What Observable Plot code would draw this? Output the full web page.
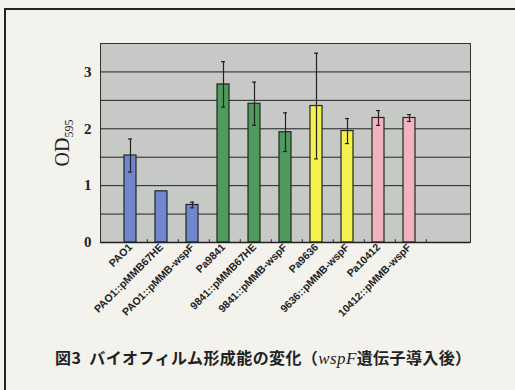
<!DOCTYPE html>
<html><head><meta charset="utf-8">
<script src="https://cdn.jsdelivr.net/npm/d3@7"></script>
<script src="https://cdn.jsdelivr.net/npm/@observablehq/plot@0.6"></script>
<style>
body{margin:0;background:#f3f2ec;width:515px;height:390px;overflow:hidden;position:relative;}
#frame{position:absolute;left:4px;top:8px;width:530px;height:400px;border:2px solid #222;}
#chart{position:absolute;left:0;top:0;}
#cap{position:absolute;left:55px;top:345px;font-family:"Noto Sans CJK JP",sans-serif;font-weight:bold;font-size:16px;color:#222;letter-spacing:0.4px;white-space:nowrap;}
#cap i{font-family:"Liberation Serif",serif;font-weight:normal;font-size:17px;}
</style></head>
<body>
<div id="frame"></div>
<div id="chart"></div>
<div id="cap">図3&nbsp; バイオフィルム形成能の変化（<i>wspF</i>遺伝子導入後）</div>
<script>
const categories = ["PAO1","PAO1::pMMB67HE","PAO1::pMMB-wspF","Pa9841","9841::pMMB67HE","9841::pMMB-wspF","Pa9636","9636::pMMB-wspF","Pa10412","10412::pMMB-wspF"];
const values = [1.53, 0.90, 0.66, 2.78, 2.44, 1.94, 2.40, 1.96, 2.19, 2.19];
const errors = [0.29, 0.0, 0.05, 0.40, 0.38, 0.34, 0.93, 0.22, 0.13, 0.06];
const groups = ["PAO1","PAO1","PAO1","9841","9841","9841","9636","9636","10412","10412"];
const groupNames = ["PAO1","9841","9636","10412"];
const groupColors = ["#7086cf","#4f9a5c","#f4f04e","#f1b3bf"];
const yTicks = [0,1,2,3];
const gridLines = [0.5,1,1.5,2,2.5,3];

const data = categories.map((c,i)=>({cat:c, v:values[i], e:errors[i], g:groups[i]}));
const domainX = [...categories, " "];

const plot = Plot.plot({
  width: 515, height: 330,
  marginLeft: 100, marginRight: 45, marginTop: 43, marginBottom: 88,
  style: {background: "transparent", fontFamily: "Liberation Sans, Arial, sans-serif"},
  x: {domain: domainX, padding: 0.6, label: null},
  y: {domain: [0, 3.5], label: null},
  color: {domain: groupNames, range: groupColors},
  marks: [
    Plot.frame({fill: "#c6c9c5", stroke: "#333", strokeWidth: 1}),
    Plot.ruleY(gridLines, {stroke: "#222", strokeWidth: 1}),
    Plot.barY(data, {x: "cat", y: "v", fill: "g", stroke: "#1e2a1e", strokeWidth: 1.2}),
    Plot.ruleX(data.filter(d=>d.e>0), {x: "cat", y1: d=>d.v-d.e, y2: d=>d.v+d.e, stroke: "#222", strokeWidth: 1.2}),
    Plot.tickY(data.filter(d=>d.e>0), {x: "cat", y: d=>d.v+d.e, stroke: "#222", strokeWidth: 1.2, insetLeft: 4, insetRight: 4}),
    Plot.tickY(data.filter(d=>d.e>0), {x: "cat", y: d=>d.v-d.e, stroke: "#222", strokeWidth: 1.2, insetLeft: 4, insetRight: 4}),
    Plot.ruleX(domainX.slice(0, -1), {x: d=>d, y1: 0, y2: 0.05, dx: 16.8, stroke: "#333", strokeWidth: 1}),
    Plot.ruleY([0], {stroke: "#222", strokeWidth: 1.5}),
    Plot.axisY({ticks: yTicks, tickFormat: "d", tickSize: 0, tickPadding: 9, fontSize: 15, fontWeight: "bold", fontFamily: "Liberation Serif, serif", fill: "#222",
      label: "OD595", labelAnchor: "center", labelOffset: 46, labelArrow: "none"}),
    Plot.axisX({tickSize: 0, tickRotate: -45, tickPadding: 3, fontSize: 10.5, fontWeight: "bold", fill: "#222", label: null})
  ]
});
// y-axis label: serif "OD" with subscript "595"
plot.querySelectorAll("[aria-label='y-axis label'] text").forEach(t=>{
  t.setAttribute("font-size","20"); t.setAttribute("font-family","Liberation Serif, serif"); t.setAttribute("font-weight","normal");
  t.textContent = "OD";
  const ts = document.createElementNS("http://www.w3.org/2000/svg","tspan");
  ts.setAttribute("font-size","12"); ts.setAttribute("dy","4"); ts.textContent = "595";
  t.appendChild(ts);
});
document.getElementById("chart").appendChild(plot);
</script>
</body></html>
